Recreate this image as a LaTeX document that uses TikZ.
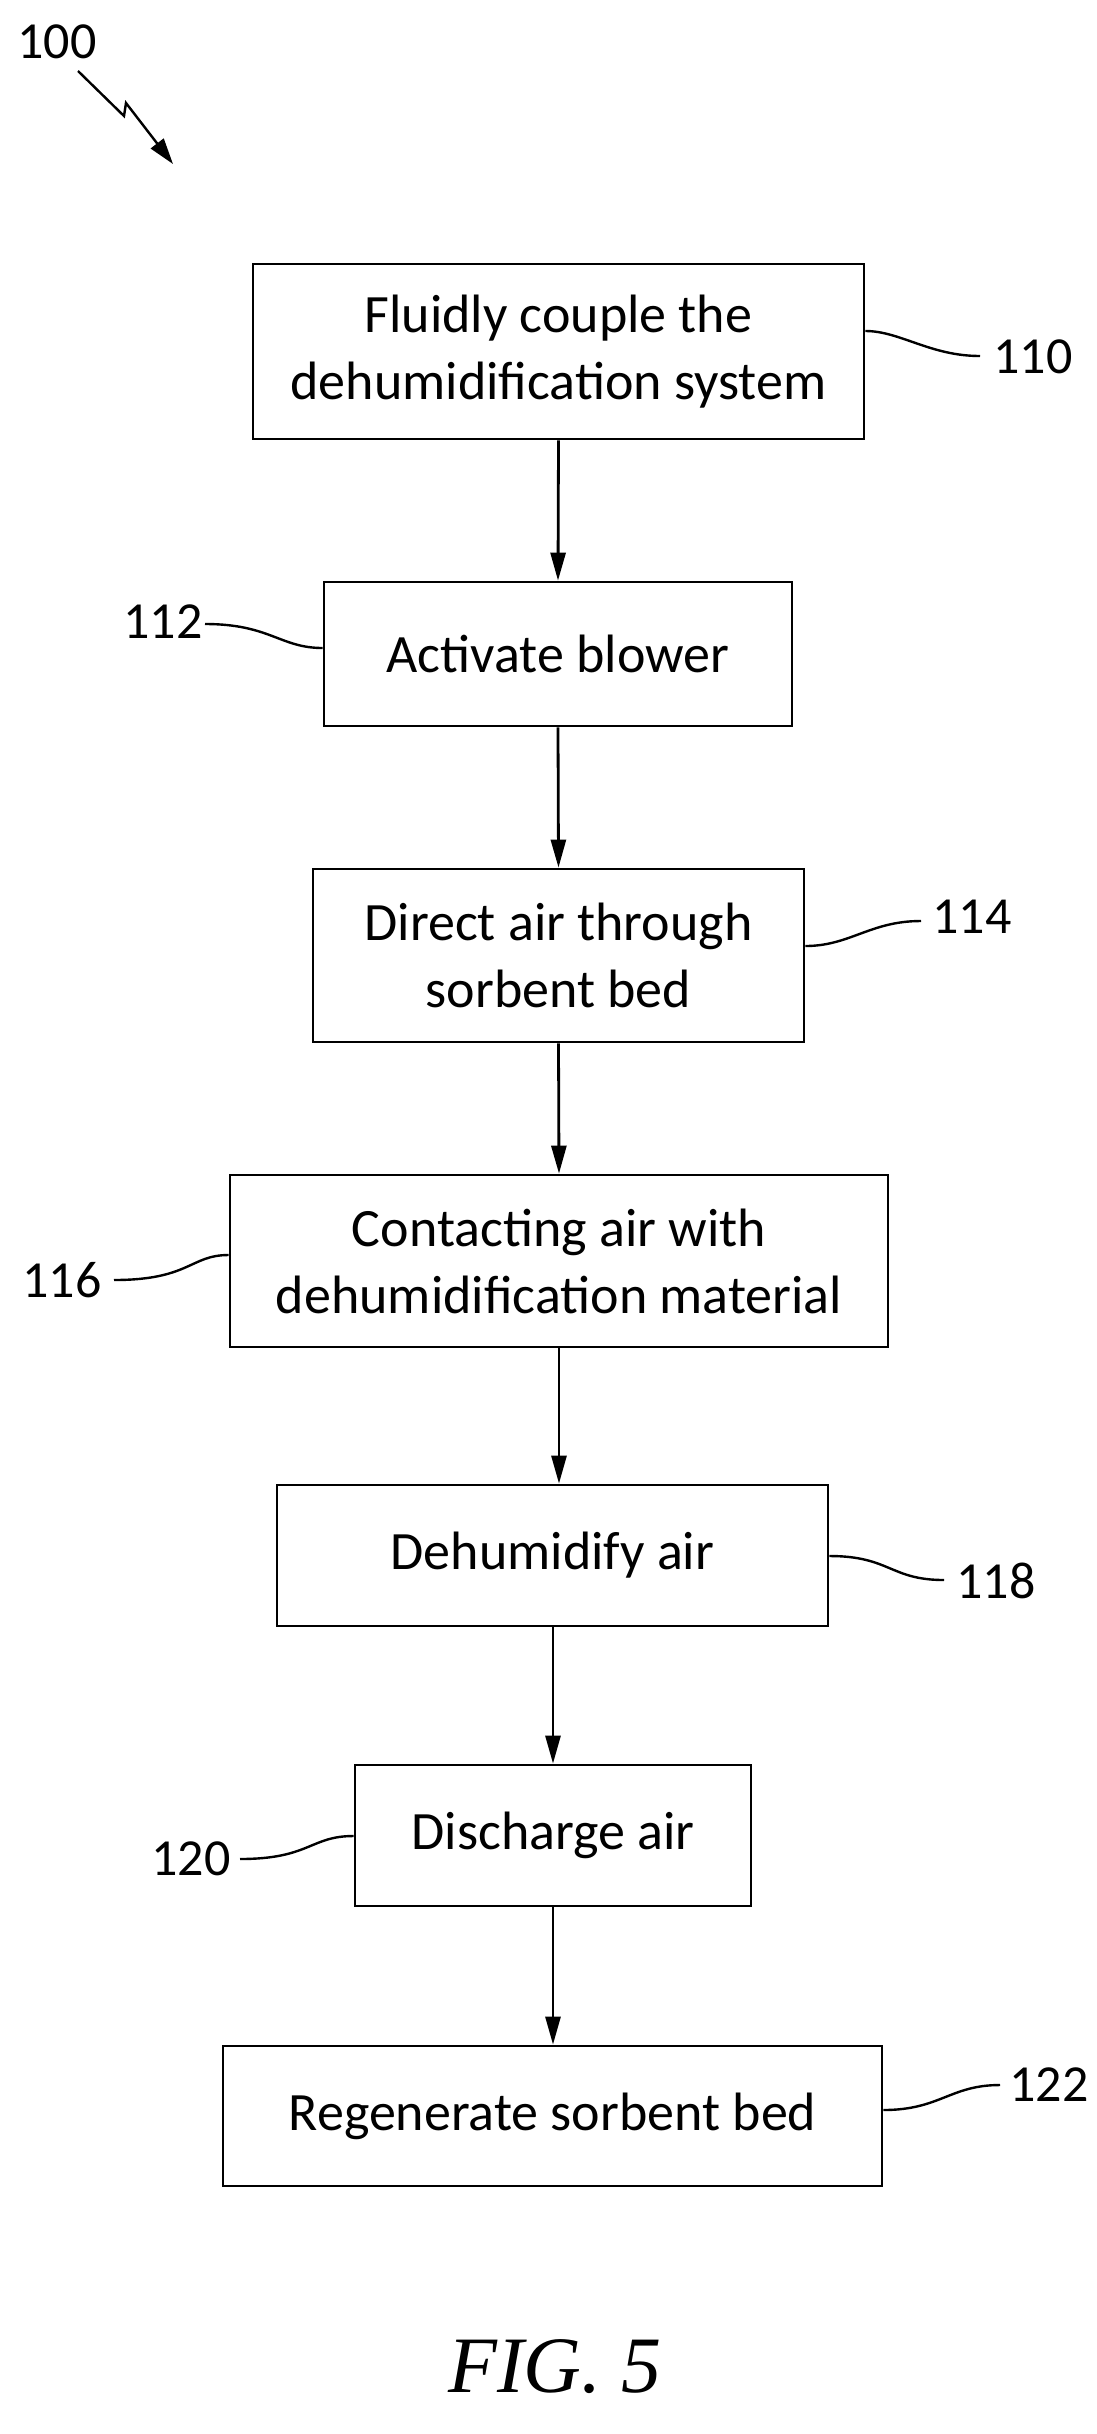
\documentclass[tikz,border=0pt]{standalone}
\usepackage{fontspec}
\setmainfont{Carlito}
\newfontfamily\figfont{Liberation Serif}
\usetikzlibrary{arrows.meta}
\begin{document}
\begin{tikzpicture}[x=1pt,y=-1pt,line width=2.8pt,
  box/.style={draw,line width=2.8pt,inner sep=0pt,align=center,font=\fontsize{54}{67}\selectfont},
  lbl/.style={font=\fontsize{52}{60}\selectfont,inner sep=0pt},
  arr/.style={-{Triangle[length=28pt,width=15pt]}},
  lead/.style={line width=2.4pt}]
\useasboundingbox (0,0) rectangle (1097,2434);
\node[box,minimum width=611pt,minimum height=175pt] (b110) at (558.5,351.5) {Fluidly couple the\\dehumidification system};
\node[box,minimum width=468pt,minimum height=144pt] (b112) at (558,654) {Activate blower};
\node[box,minimum width=491pt,minimum height=173pt] (b114) at (558.5,955.5) {Direct air through\\sorbent bed};
\node[box,minimum width=658pt,minimum height=172pt] (b116) at (559,1261) {Contacting air with\\dehumidification material};
\node[box,minimum width=551pt,minimum height=141pt] (b118) at (552.5,1555.5) {Dehumidify air};
\node[box,minimum width=396pt,minimum height=141pt] (b120) at (553,1835.5) {Discharge air};
\node[box,minimum width=659pt,minimum height=140pt] (b122) at (552.5,2116) {Regenerate sorbent bed};
\draw[arr] (b110.south) -- (b112.north);
\draw[arr] (b112.south) -- (b114.north);
\draw[arr] (b114.south) -- (b116.north);
\draw[arr] (b116.south) -- (b116.south |- b118.north);
\draw[arr] (b118.south -| b120.north) -- (b120.north);
\draw[arr] (b120.south) -- (b120.south |- b122.north);
% labels
\node[lbl] (l100) at (57,42) {100};
\node[lbl] (l110) at (1033,357) {110};
\node[lbl] (l112) at (163,622) {112};
\node[lbl] (l114) at (972,917) {114};
\node[lbl] (l116) at (62,1280) {116};
\node[lbl] (l118) at (996,1581) {118};
\node[lbl] (l120) at (191,1859) {120};
\node[lbl] (l122) at (1049,2085) {122};
\coordinate (c110) at (980,356);
\coordinate (c112) at (205,624);
\coordinate (c114) at (921,921);
\coordinate (c116) at (114,1280);
\coordinate (c118) at (944,1580);
\coordinate (c120) at (240,1859);
\coordinate (c122) at (1000,2085);
\draw[lead] (b110.east |- 0,331) .. controls (900,331) and (930,356) .. (c110);
\draw[lead] (c112) .. controls (270,624) and (280,648) .. (b112.west |- 0,648);
\draw[lead] (b114.east |- 0,946) .. controls (850,946) and (870,921) .. (c114);
\draw[lead] (c116) .. controls (190,1280) and (190,1255) .. (b116.west |- 0,1255);
\draw[lead] (b118.east |- 0,1556) .. controls (890,1556) and (890,1580) .. (c118);
\draw[lead] (c120) .. controls (310,1859) and (310,1836) .. (b120.west |- 0,1836);
\draw[lead] (b122.east |- 0,2110) .. controls (940,2110) and (950,2085) .. (c122);
% 100 zigzag arrow
\coordinate (z0) at (78,71);
\coordinate (z1) at (124,116);
\coordinate (z2) at (126,103);
\coordinate (z3) at (173,164);
\draw[lead,-{Triangle[length=26pt,width=16pt]}] (z0) -- (z1) -- (z2) -- (z3);
\node[font=\figfont\itshape\fontsize{80}{90}\selectfont,inner sep=0pt] (fig) at (555,2367) {FIG. 5};
\end{tikzpicture}
\end{document}
